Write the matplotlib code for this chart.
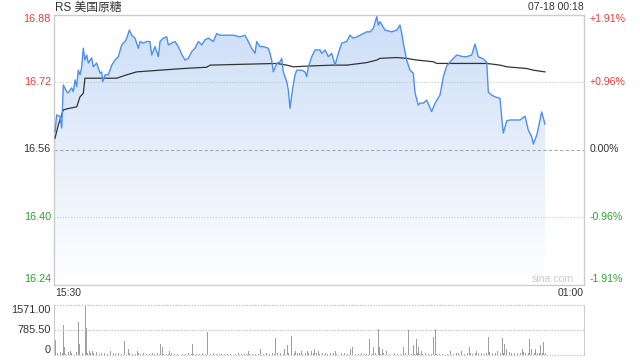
import numpy as np
import matplotlib
matplotlib.use("Agg")
from matplotlib import pyplot as plt
from matplotlib import transforms

plt.rcParams['font.family'] = ['Liberation Sans', 'Noto Sans CJK SC', 'DejaVu Sans']

# price trace, minutes after 15:30
price_min = [1.1, 2.9, 6.5, 8.3, 10.0, 13.7, 15.1, 19.0, 20.8, 22.6, 24.4, 26.1, 28.0, 29.8,
             31.5, 33.3, 35.2, 36.9, 40.5, 42.3, 45.9, 49.5, 51.3, 52.4, 54.9, 58.4, 62.1,
             65.6, 69.2, 72.8, 76.4, 78.2, 81.0, 83.6, 87.1, 90.7, 92.5, 96.0, 99.7, 103.2,
             105.1, 108.6, 112.2, 114.0, 117.6, 121.2, 123.0, 126.6, 130.1, 133.7, 137.3,
             140.9, 144.4, 148.1, 151.6, 155.2, 158.9, 162.4, 166.0, 171.3, 175.0, 178.5,
             182.1, 192.8, 200.0, 205.4, 209.0, 212.6, 216.2, 218.0, 221.6, 225.1, 230.5,
             232.3, 234.1, 235.9, 239.5, 243.1, 244.9, 246.6, 250.3, 252.0, 253.8, 256.7,
             259.2, 261.0, 266.4, 269.9, 271.8, 273.5, 277.2, 280.7, 286.1, 287.9, 291.5,
             295.0, 298.7, 302.2, 305.8, 309.4, 314.8, 318.3, 321.9, 325.6, 329.1, 332.7,
             336.3, 339.9, 343.4, 347.1, 348.8, 350.6, 356.0, 363.2, 368.6, 372.1, 374.0,
             375.7, 379.3, 382.9, 386.4, 388.3, 391.8, 393.6, 397.2, 400.8, 406.2, 409.8,
             415.1, 418.7, 422.3, 427.7, 433.1, 440.2, 443.8, 449.2, 452.8, 456.3, 461.7,
             465.4, 467.1, 470.7, 474.3, 479.7, 481.5, 483.2, 486.9, 490.4, 494.0, 501.2,
             506.6, 510.1, 513.8, 515.5, 519.2, 522.7, 524.5, 528.0]
price = [16.602, 16.642, 16.638, 16.611, 16.713, 16.697, 16.694, 16.706, 16.697, 16.725,
         16.709, 16.748, 16.737, 16.756, 16.800, 16.772, 16.784, 16.765, 16.777, 16.756,
         16.765, 16.741, 16.744, 16.721, 16.737, 16.737, 16.760, 16.772, 16.780, 16.808,
         16.816, 16.824, 16.843, 16.831, 16.824, 16.800, 16.816, 16.812, 16.816, 16.816,
         16.784, 16.804, 16.780, 16.816, 16.824, 16.827, 16.808, 16.812, 16.816, 16.804,
         16.786, 16.772, 16.776, 16.792, 16.800, 16.816, 16.808, 16.820, 16.824, 16.816,
         16.835, 16.831, 16.831, 16.831, 16.827, 16.831, 16.816, 16.800, 16.788, 16.816,
         16.804, 16.804, 16.800, 16.788, 16.772, 16.744, 16.764, 16.768, 16.776, 16.744,
         16.721, 16.701, 16.658, 16.706, 16.737, 16.748, 16.748, 16.744, 16.733, 16.756,
         16.780, 16.796, 16.796, 16.788, 16.796, 16.780, 16.788, 16.760, 16.788, 16.812,
         16.816, 16.831, 16.824, 16.827, 16.831, 16.835, 16.839, 16.839, 16.847, 16.875,
         16.855, 16.863, 16.843, 16.839, 16.843, 16.855, 16.835, 16.812, 16.772, 16.748,
         16.741, 16.694, 16.665, 16.670, 16.670, 16.677, 16.650, 16.670, 16.689, 16.732,
         16.758, 16.772, 16.784, 16.780, 16.780, 16.784, 16.810, 16.780, 16.775, 16.767,
         16.696, 16.689, 16.685, 16.681, 16.635, 16.599, 16.628, 16.630, 16.630, 16.630,
         16.639, 16.606, 16.590, 16.573, 16.594, 16.630, 16.649, 16.620]

avg_min = [1.1, 4.6, 10.0, 17.2, 24.4, 28.0, 31.5, 33.3, 42.3, 67.4, 78.2, 88.9, 114.0,
           139.1, 164.2, 167.8, 203.3, 239.5, 250.3, 257.4, 275.3, 300.4, 314.8, 336.3,
           347.1, 350.6, 368.6, 379.3, 390.1, 408.0, 411.6, 440.2, 465.4, 479.7, 486.9,
           508.4, 515.5, 528.0]
avg_price = [16.587, 16.618, 16.654, 16.658, 16.661, 16.685, 16.693, 16.729, 16.729, 16.729,
             16.737, 16.744, 16.748, 16.752, 16.755, 16.760, 16.762, 16.764, 16.760, 16.756,
             16.758, 16.760, 16.760, 16.766, 16.772, 16.776, 16.778, 16.776, 16.772, 16.768,
             16.764, 16.764, 16.764, 16.760, 16.756, 16.752, 16.748, 16.744]

# larger volume bars (minute, volume)
spike_min = [1, 10, 11, 17, 26, 27, 33, 34, 35, 38, 41, 60, 75, 80, 89, 114, 116, 124, 148,
             165, 209, 222, 238, 247, 251, 255, 259, 266, 272, 276, 280, 284, 302, 318, 321,
             339, 343, 348, 350, 353, 357, 375, 381, 386, 389, 392, 395, 408, 410, 426, 438,
             446, 454, 467, 476, 482, 484, 486, 503, 511, 513, 517, 523, 526]
spike_vol = [460, 935, 250, 140, 1040, 330, 1571, 840, 140, 140, 110, 110, 430, 190, 110,
             330, 240, 140, 330, 710, 130, 190, 530, 190, 300, 590, 140, 120, 140, 140, 190,
             120, 120, 190, 240, 490, 250, 810, 240, 180, 120, 240, 780, 300, 490, 250, 140,
             565, 810, 110, 110, 240, 140, 565, 110, 530, 330, 190, 190, 490, 190, 190, 300,
             420]
# small volume, every 3 minutes
base_vol = [120, 60, 90, 70, 40, 80, 60, 50, 90, 70, 60, 40, 70, 50, 60, 80, 40, 50, 60, 40,
            30, 50, 40, 60, 30, 40, 70, 50, 40, 30, 60, 40, 50, 30, 40, 60, 30, 50, 40, 30,
            40, 30, 50, 40, 30, 60, 40, 30, 50, 40, 30, 40, 20, 50, 30, 40, 30, 50, 40, 30,
            30, 40, 20, 30, 40, 30, 50, 30, 40, 20, 30, 40, 30, 20, 40, 30, 50, 40, 60, 40,
            50, 70, 40, 60, 50, 40, 70, 50, 60, 40, 50, 60, 40, 50, 70, 40, 60, 50, 40, 60,
            50, 40, 60, 50, 70, 40, 60, 50, 40, 30, 50, 40, 30, 50, 40, 60, 40, 30, 50, 40,
            30, 40, 50, 30, 40, 30, 50, 40, 30, 40, 50, 30, 40, 60, 40, 30, 50, 40, 30, 40,
            50, 40, 60, 40, 50, 70, 50, 40, 60, 50, 40, 60, 50, 70, 40, 60, 80, 50, 60, 40,
            70, 50, 60, 80, 60, 70, 50, 60, 90, 60, 70, 80, 60, 70, 50, 60, 70]

prev_close = 16.56
price_ticks = [16.88, 16.72, 16.56, 16.40, 16.24]
pct_labels = ["+1.91%", "+0.96%", "0.00%", "-0.96%", "-1.91%"]
vol_ticks = [1571, 785.5, 0]
vol_labels = ["1571.00", "785.50", "0"]
total_min = 570

RED = '#f03a3a'
GREEN = '#2aa52a'
DARK = '#333333'
BORDER = '#cccccc'


def label_colour(v):
  if v > prev_close + 1e-9:
    return RED
  if v < prev_close - 1e-9:
    return GREEN
  return DARK


def main():
  fig = plt.figure(figsize=(6.4, 3.6), dpi=100)
  ax = fig.add_axes([54 / 640, 1 - 284.5 / 360, 530 / 640, 270 / 360])
  axv = fig.add_axes([54 / 640, 1 - 355 / 360, 530 / 640, 50 / 360])

  ax.set_xlim(0, total_min)
  ax.set_ylim(price_ticks[-1], price_ticks[0])

  # gradient fill under price line
  grad = np.linspace(0, 1, 256).reshape(-1, 1)
  top_c = np.array([0.80, 0.87, 0.97])
  bot_c = np.array([1.0, 1.0, 1.0])
  img = top_c + (bot_c - top_c) * grad
  img = img.reshape(256, 1, 3)
  x = np.array(price_min)
  y = np.array(price)
  poly = ax.fill_between(x, y, price_ticks[-1], color='none', lw=0)
  im = ax.imshow(img, extent=[0, total_min, price_ticks[-1], max(price)], aspect='auto',
                 origin='upper', zorder=1)
  im.set_clip_path(poly.get_paths()[0], transform=ax.transData)

  for v in price_ticks[1:-1]:
    if v == prev_close:
      ax.axhline(v, color='#aaaaaa', lw=0.8, ls=(0, (3, 2)), zorder=2)
    else:
      ax.axhline(v, color='#c8c8c8', lw=0.8, ls=(0, (1, 1.5)), zorder=2)

  ax.plot(x, y, color='#4f8ff0', lw=1.0, zorder=4)
  ax.plot(avg_min, avg_price, color='#333333', lw=0.9, zorder=3)

  ax.set_xticks([])
  ax.set_yticks([])
  for s in ax.spines.values():
    s.set_color(BORDER)
    s.set_linewidth(1.0)

  trans = transforms.blended_transform_factory(ax.transAxes, ax.transData)
  n = len(price_ticks)
  for i, (v, p) in enumerate(zip(price_ticks, pct_labels)):
    va = 'top' if i == 0 else ('bottom' if i == n - 1 else 'center')
    c = label_colour(v)
    ax.text(-0.006, v, f"{v:.2f}", transform=trans, ha='right', va=va, fontsize=7.8, color=c)
    ax.text(1.011, v, p, transform=trans, ha='left', va=va, fontsize=7.6, color=c)

  ax.text(0.98, 0.003, "sina.com", transform=ax.transAxes, ha='right', va='bottom',
          fontsize=7.6, color='#cccccc')

  fig.text(55 / 640, 1 - 7.5 / 360, "RS 美国原糖", ha='left', va='center', fontsize=8.5, color=DARK)
  fig.text(584 / 640, 1 - 7.5 / 360, "07-18 00:18", ha='right', va='center', fontsize=7.5, color=DARK)
  fig.text(55 / 640, 1 - 293 / 360, "15:30", ha='left', va='center', fontsize=7.5, color=DARK)
  fig.text(584 / 640, 1 - 293 / 360, "01:00", ha='right', va='center', fontsize=7.5, color=DARK)

  # volume
  axv.set_xlim(0, total_min)
  axv.set_ylim(0, vol_ticks[0])
  base_min = np.arange(len(base_vol)) * 3
  axv.bar(base_min, base_vol, width=1.0, color='#a0a0a0', lw=0, align='edge')
  axv.bar(spike_min, spike_vol, width=1.0, color='#a0a0a0', lw=0, align='edge')
  for v in vol_ticks:
    axv.axhline(v, color='#c0c0c0', lw=0.9, ls=(0, (1, 1.2)), clip_on=False)
  axv.set_xticks([])
  axv.set_yticks([])
  axv.spines['top'].set_visible(False)
  axv.spines['bottom'].set_visible(False)
  axv.spines['left'].set_color(BORDER)
  axv.spines['right'].set_color(BORDER)
  transv = transforms.blended_transform_factory(axv.transAxes, axv.transData)
  for i, (v, l) in enumerate(zip(vol_ticks, vol_labels)):
    va = 'top' if i == 0 else ('bottom' if i == len(vol_ticks) - 1 else 'center')
    axv.text(-0.006, v, l, transform=transv, ha='right', va=va, fontsize=7.8, color=DARK)

  fig.savefig("out.png", dpi=100)


if __name__ == "__main__":
  main()
